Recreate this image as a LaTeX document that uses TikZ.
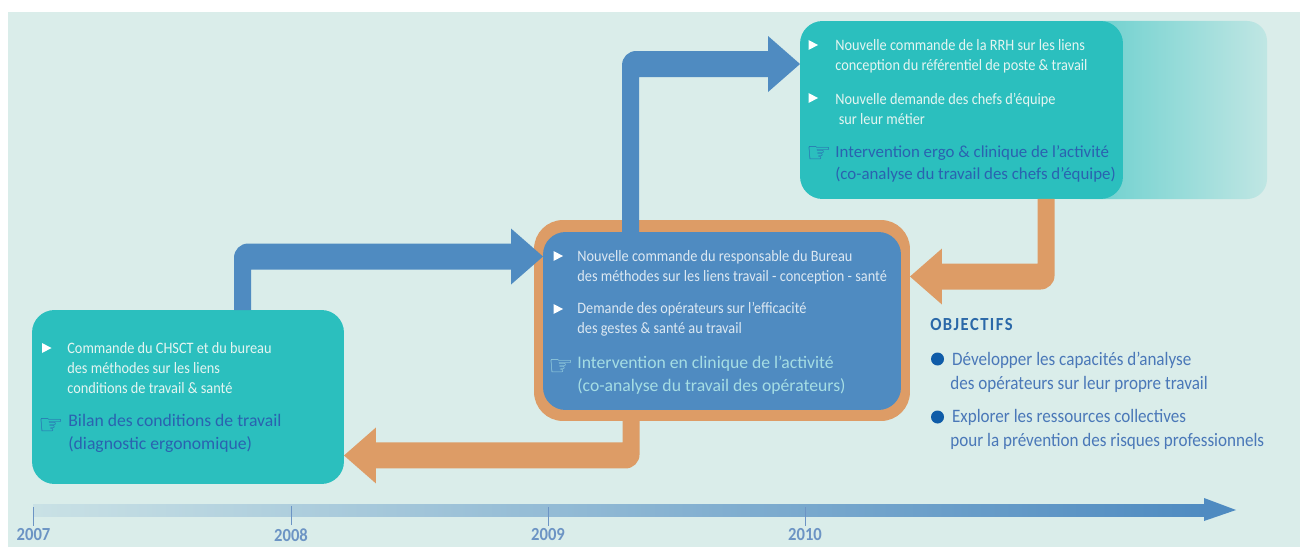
\documentclass[tikz,border=0pt]{standalone}
\usepackage{fontspec}
\setmainfont{Carlito}[FakeStretch=0.9]
\newfontfamily\symboles{DejaVu Sans}
\newfontfamily\titrage{Carlito}
\usepackage{tikz}
\usetikzlibrary{calc, positioning}

\definecolor{fond}{HTML}{DAEDEA}
\definecolor{turquoise}{HTML}{2BBFBE}
\definecolor{bleuboite}{HTML}{4F8BC1}
\definecolor{orange}{HTML}{DD9C66}
\definecolor{texteclair}{HTML}{E4F5F1}
\definecolor{textefonce}{HTML}{2A62B0}
\definecolor{textebureau}{HTML}{DCE8F2}
\definecolor{textecyan}{HTML}{A5DDE4}
\definecolor{texteobj}{HTML}{4A78B8}
\definecolor{titreobj}{HTML}{2A68A8}
\definecolor{pastille}{HTML}{0F5CA8}
\definecolor{annee}{HTML}{6C94C4}

\tikzset{
    boite/.style={rounded corners=0.45cm, inner sep=0pt, outer sep=0pt},
    txt/.style={anchor=west, align=left, inner sep=0pt, font=\fontsize{9.05}{11.4}\selectfont},
    interv/.style={anchor=west, align=left, inner sep=0pt, font=\titrage\fontsize{10.05}{13.1}\selectfont},
    intervhaut/.style={anchor=west, align=left, inner sep=0pt, font=\titrage\fontsize{9.6}{12.1}\selectfont},
    obj/.style={anchor=west, align=left, inner sep=0pt, text=texteobj, font=\fontsize{10.8}{13.6}\selectfont},
    main/.style={inner sep=0pt, font=\symboles\fontsize{16}{16}\selectfont},
}

% start, tip, horizontal sense, vertical sense
\newcommand{\fleche}[5]{%
    \coordinate (pa) at ($(#2)+({-(#4)*8.5},0)$);
    \coordinate (pb) at ($(#3)+({-(#4)*32},{(#5)*13})$);
    \fill[#1] (pa) [rounded corners=0.28cm] -- (pa |- pb) [sharp corners] -- (pb) -- ++(0,{(#5)*15}) -- (#3) -- ($(#3)+({-(#4)*32},{-(#5)*28})$) -- ++(0,{(#5)*15}) -| ($(#2)+({(#4)*8.5},0)$) -- cycle;}
\newcommand{\puce}[2]{\fill[white] (#1,#2) ++(-4.5,-5) -- ++(9.5,5) -- ++(-9.5,5) -- cycle;}

\begin{document}
\begin{tikzpicture}[x=0.02cm, y=-0.02cm]
    \useasboundingbox (0,0) rectangle (1300,547);
    \fill[fond] (8,12) rectangle (1300,547);

    % boxes
    \shade[left color=turquoise!71!fond, right color=turquoise!15!fond, rounded corners=0.4cm] (1060,21) rectangle (1267,199);
    \node[boite, fill=orange, minimum width=7.52cm, minimum height=4.02cm, rounded corners=0.58cm] (cadre) at (722,320.5) {};
    \node[boite, fill=turquoise, minimum width=6.24cm, minimum height=3.48cm] (chsct) at (188,397) {};
    \node[boite, fill=turquoise, minimum width=6.46cm, minimum height=3.56cm] (rrh) at (961.5,110) {};

    % arrows
    \coordinate (d1) at ($(chsct.north west)+(210.5,0)$);
    \coordinate (b1) at ($(cadre.north west)+(9,36.5)$);
    \coordinate (d2) at ($(cadre.north west)+(96.5,12)$);
    \coordinate (r1) at ($(rrh.north west)+(0,43)$);
    \coordinate (d3) at ($(rrh.south west)+(246,0)$);
    \coordinate (b2) at ($(cadre.north east)+(0,56.5)$);
    \coordinate (d4) at ($(cadre.south west)+(97,0)$);
    \coordinate (c1) at ($(chsct.south east)+(0,-28.5)$);
    \fleche{bleuboite}{d1}{b1}{1}{-1}
    \fleche{bleuboite}{d2}{r1}{1}{-1}
    \fleche{orange}{d3}{b2}{-1}{1}
    \fleche{orange}{d4}{c1}{-1}{1}
    \node[boite, fill=bleuboite, minimum width=7.16cm, minimum height=3.56cm] (bureau) at (722,321) {};

    % left box
    \puce{46.5}{348}
    \node[txt, text=texteclair] (chsct1) at (67,368) {Commande du CHSCT et du bureau\\des méthodes sur les liens\\conditions de travail \& santé};
    \node[main, text=textefonce] (chsctm) at (51,426) {☞};
    \node[interv, text=textefonce] (chsct2) at (68,433.5) {Bilan des conditions de travail\\(diagnostic ergonomique)};

    % middle box
    \puce{558}{256}
    \puce{558}{309}
    \node[txt, text=textebureau] (bur1) at (577,267) {Nouvelle commande du responsable du Bureau\\des méthodes sur les liens travail - conception - santé};
    \node[txt, text=textebureau] (bur2) at (577,319.5) {Demande des opérateurs sur l’efficacité\\des gestes \& santé au travail};
    \node[main, text=textecyan] (burm) at (561,368) {☞};
    \node[interv, text=textecyan] (bur3) at (577,375) {Intervention en clinique de l’activité\\(co-analyse du travail des opérateurs)};

    % top box
    \puce{813}{45}
    \puce{813}{98}
    \node[txt, text=texteclair] (rrh1) at (835,56) {Nouvelle commande de la RRH sur les liens\\conception du référentiel de poste \& travail};
    \node[txt, text=texteclair] (rrh2) at (835,109) {Nouvelle demande des chefs d’équipe\\\hspace*{2pt}sur leur métier};
    \node[main, text=textefonce] (rrhm) at (819,155) {☞};
    \node[intervhaut, text=textefonce] (rrh3) at (835,164) {Intervention ergo \& clinique de l’activité\\(co-analyse du travail des chefs d’équipe)};

    % objectives
    \node[anchor=west, inner sep=0pt, text=titreobj, font=\fontsize{10.5}{11}\bfseries\selectfont] (titre) at (930,325) {O\kern.8pt B\kern.8pt J\kern.8pt E\kern.8pt C\kern.8pt T\kern.8pt I\kern.8pt F\kern.8pt S};
    \fill[pastille] (937.5,359) circle (6.5);
    \fill[pastille] (937.5,417) circle (6.5);
    \node[obj] (obj1) at (950,372) {\hspace*{1pt}Développer les capacités d’analyse\\des opérateurs sur leur propre travail};
    \node[obj] (obj2) at (950,429) {\hspace*{1pt}Explorer les ressources collectives\\pour la prévention des risques professionnels};

    % time line
    \shade[left color=bleuboite!12!fond, right color=bleuboite] (33,504) rectangle (1205,516);
    \fill[bleuboite] (1204,498) -- (1236,510) -- (1204,521) -- cycle;
    \foreach \x/\an in {33.5/2007, 291/2008, 548/2009, 805/2010} {
        \node[text=annee, font=\fontsize{10.5}{11}\bfseries\selectfont, inner sep=0pt] (a\an) at (\x,535) {\an};
        \draw[annee, line width=0.5pt] (a\an.north) ++(0,-3) -- ++(0,-19);
    }
\end{tikzpicture}
\end{document}
